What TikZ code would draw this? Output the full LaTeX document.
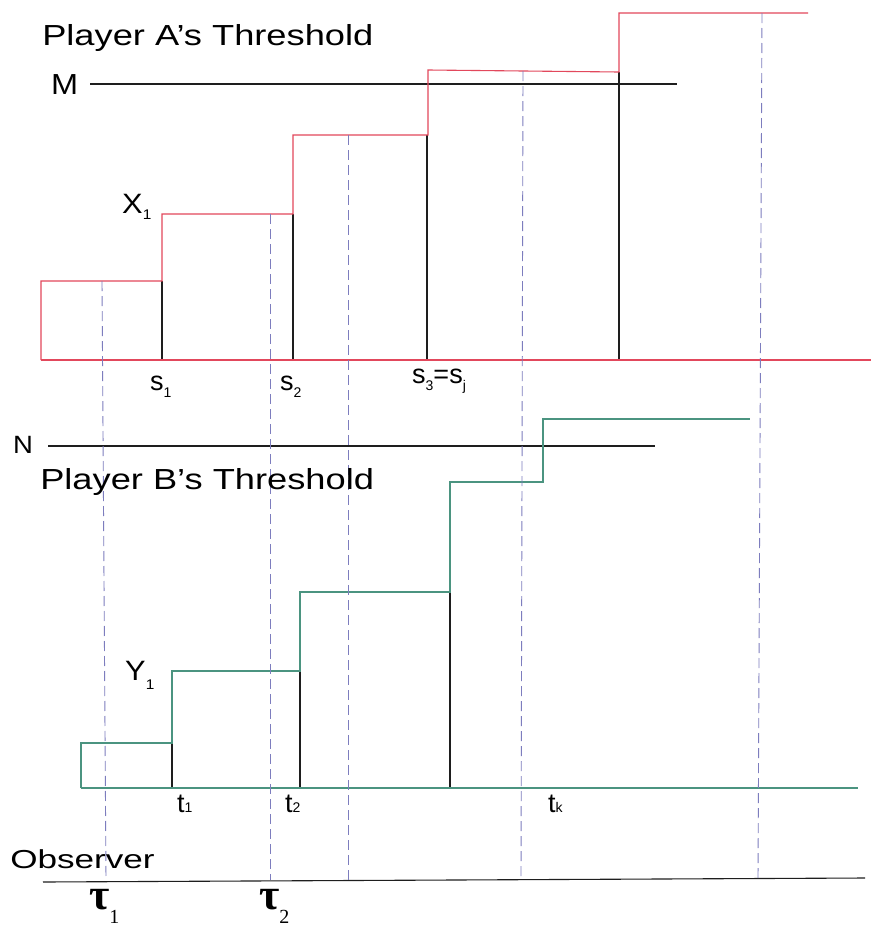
\documentclass[tikz,border=0pt]{standalone}
\usepackage{fontspec}
\setmainfont{Liberation Sans}
\newfontfamily\serifA{Liberation Serif}
\definecolor{redline}{RGB}{226,72,92}
\definecolor{greenline}{RGB}{75,148,128}
\definecolor{dashline}{RGB}{125,125,190}
\definecolor{darkline}{RGB}{30,30,30}
\newcommand\lsub[2]{\raisebox{-#1pt}{\fontsize{14}{14}\selectfont #2}}
\newcommand\tsub[1]{\raisebox{-14pt}{\fontsize{20}{20}\selectfont #1}}
\begin{document}
\begin{tikzpicture}[x=1pt,y=-1pt,
  redstep/.style={draw=redline, line width=1.1pt},
  greenstep/.style={draw=greenline, line width=1.1pt},
  blackline/.style={draw=darkline, line width=1.1pt},
  dashv/.style={draw=dashline, line width=0.9pt, dash pattern=on 10pt off 5pt},
  lab/.style={inner sep=0pt, anchor=base west},
  big/.style={lab, font=\fontsize{29}{30}\selectfont, xscale=1.25},
  mid/.style={lab, font=\fontsize{27}{28}\selectfont},
  taulab/.style={lab, font=\serifA\bfseries\fontsize{44}{44}\selectfont}]
\useasboundingbox (0,0) rectangle (871,929);
\fill[white] (0,0) rectangle (871,929);

% ---------- Player A ----------
\draw[blackline] (90,84) -- (677,84);
\draw[blackline] (162,281) -- (162,360);
\draw[blackline] (293,214) -- (293,360);
\draw[blackline] (427,135) -- (427,360);
\draw[blackline] (619,72) -- (619,360);
\draw[redstep] (41,360) -- (871,360);
\draw[redstep] (41,360) -- (41,281) -- (162,281) -- (162,214) -- (293,214)
  -- (293,135) -- (428,135) -- (428,70) -- (619,72) -- (619,13) -- (808,13);

% ---------- Player B ----------
\draw[blackline] (48,446) -- (655,446);
\draw[blackline] (172,743) -- (172,788);
\draw[blackline] (300,671) -- (300,788);
\draw[blackline] (450,592) -- (450,788);
\draw[greenstep] (81,788) -- (858,788);
\draw[greenstep] (81,788) -- (81,743) -- (172,743) -- (172,671) -- (300,671)
  -- (300,592) -- (450,592) -- (450,482) -- (543,482) -- (543,419) -- (750,419);

% ---------- Observer ----------
\draw[blackline] (43,882) -- (865,878);

% ---------- dashed verticals ----------
\draw[dashv] (102,281) -- (106,880);
\draw[dashv] (270,214) -- (270,880);
\draw[dashv] (348,135) -- (348,880);
\draw[dashv] (523,71) -- (521,880);
\draw[dashv] (762,13) -- (758,880);

% ---------- labels ----------
\node[big] (ta) at (42,45) {Player A’s Threshold};
\node[lab, font=\fontsize{29}{30}\selectfont, xscale=1.12] (m) at (51,94) {M};
\node[lab, font=\fontsize{28}{29}\selectfont, xscale=1.1] (x1) at (122,213) {X\lsub{6}{1}};
\node[mid] (s1) at (150,390) {s\lsub{7}{1}};
\node[mid] (s2) at (280,390) {s\lsub{7}{2}};
\node[mid] (s3) at (412,383) {s\lsub{7}{3}=s\lsub{7}{j}};

\node[lab, font=\fontsize{25}{26}\selectfont, xscale=1.1] (n) at (13,453) {N};
\node[big] (tb) at (40,489) {Player B’s Threshold};
\node[lab, font=\fontsize{28}{29}\selectfont, xscale=1.1] (y1) at (125,680) {Y\lsub{9}{1}};
\node[mid] (t1) at (177,812) {t\lsub{0}{1}};
\node[mid] (t2) at (285,812) {t\lsub{0}{2}};
\node[mid] (tk) at (548,812) {t\lsub{0}{k}};

\node[lab, font=\fontsize{26}{27}\selectfont, xscale=1.35] (obs) at (10,868) {Observer};
\node[taulab] (tau1) at (89,909) {τ\tsub{\mdseries 1}};
\node[taulab] (tau2) at (259,909) {τ\tsub{\mdseries 2}};
\end{tikzpicture}
\end{document}
